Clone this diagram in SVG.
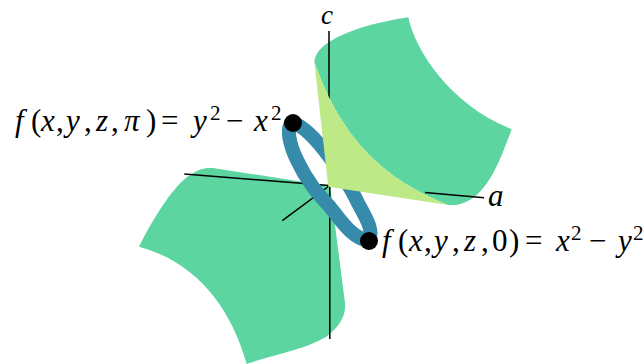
<svg xmlns="http://www.w3.org/2000/svg" width="644" height="364" viewBox="0 0 644 364">
<style>
.sheet{fill:#5dd5a1}
.inner{fill:#bde986}
.axis{fill:none;stroke:#000;stroke-width:1.5}
.loop{fill:none;stroke:#368bab;stroke-width:14;stroke-linecap:round}
.dot{fill:#000}
text{font-family:"Liberation Serif","Noto Sans",serif;font-size:31px;fill:#000}
.i{font-style:italic}
.s{font-size:21px}
</style>
<g id="lower-sheet"><path class="sheet" d="M139 246.7C158 209 178 181 192 174C201 168 208 167.5 216 168.5L330 186L345 303C346 316 340 326 326 337C306 349 276 354 246.7 364C230 305 195 262 139 246.7Z"/></g>
<g id="axes-lower">
<path class="axis" d="M184.3 174L329 185.5M282.3 220.7L329 186M329.8 185V339"/>
</g>
<g id="loop-back"><path class="loop" d="M293 123C312 128 346 177 358 203C366 218 374 230 369 241"/></g>
<g id="upper-sheet">
<path class="sheet" d="M314.3 61.7C316 48 331 38 360 28C376 23 392 20 408.3 17.3C415 50 450 105 511.7 129.3C503 152 497 169 487 183C478 196 466 206 450 205L448.3 205C395 183 345 150 314.3 61.7Z"/>
</g>
<g id="axes-upper"><path class="axis" d="M329 31V110M425 192.5L484 197.7"/></g>
<g id="inner-sheet">
<path class="inner" d="M314.3 61.7L328.3 186.7L448.3 205C395 183 345 150 314.3 61.7Z"/>
</g>
<g id="loop-front"><path class="loop" d="M293 123C285 126 290 146 297 160C308 184 322 198 330 207C342 222 352 238 369 241"/></g>
<g id="node-pi"><circle class="dot" cx="293" cy="123" r="9"/>
<text y="131"><tspan class="i" x="15">f</tspan><tspan x="31">(</tspan><tspan class="i" x="41">x</tspan><tspan x="56">,</tspan> <tspan class="i" x="66">y</tspan><tspan x="84">,</tspan> <tspan class="i" x="96">z</tspan><tspan x="111">,</tspan> <tspan class="i" x="124">π</tspan><tspan x="146">)</tspan> <tspan x="161">=</tspan> <tspan class="i" x="193">y</tspan><tspan class="s" x="210" y="120">2</tspan> <tspan x="226" y="131">−</tspan> <tspan class="i" x="254">x</tspan><tspan class="s" x="271" y="120">2</tspan></text></g>
<g id="node-zero"><circle class="dot" cx="369" cy="241" r="9"/>
<text y="251"><tspan class="i" x="382">f</tspan><tspan x="398">(</tspan><tspan class="i" x="409">x</tspan><tspan x="424">,</tspan> <tspan class="i" x="434">y</tspan><tspan x="452">,</tspan> <tspan class="i" x="464">z</tspan><tspan x="481">,</tspan> <tspan x="492">0</tspan><tspan x="509">)</tspan> <tspan x="525">=</tspan> <tspan class="i" x="556">x</tspan><tspan class="s" x="571" y="240">2</tspan> <tspan x="589" y="251">−</tspan> <tspan class="i" x="618">y</tspan><tspan class="s" x="633" y="240">2</tspan></text></g>
<g id="label-a"><text class="i" x="488" y="206">a</text></g>
<g id="label-c"><text class="i" x="321" y="24" style="font-size:27px">c</text></g>
</svg>
